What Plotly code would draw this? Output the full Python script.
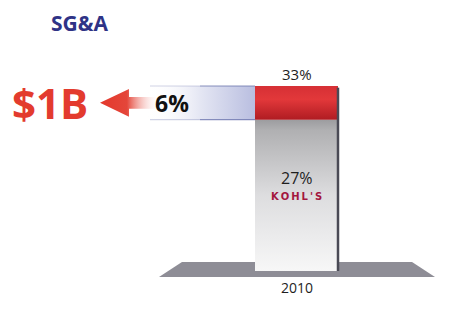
import plotly.graph_objects as go

# ---- data ----
years = ["2010"]
sga_after = [27]          # SG&A % after cut (gray part)
sga_cut = [6]             # SG&A % points cut (red part / arrow)
sga_before = [33]         # SG&A % before
savings_label = "$1B"
title = "SG&A"
brand = "KOHL'S"

# ---- layout helpers (pixel -> data) ----
W, H = 475, 312
XC, XHALF = 296.5, 41.5        # bar centre / half width in px
Y0PX, PXU = 271.0, 185.0 / 33  # baseline px, px per % unit
def X(px): return (px - XC) / XHALF
def Y(py): return (Y0PX - py) / PXU

fig = go.Figure()

base = sga_after[0]
top = base + sga_cut[0]

# gray bar (27%)
fig.add_trace(go.Scatter(
    x=[-1, 1, 1, -1, -1], y=[0, 0, base, base, 0], mode="lines",
    line=dict(width=0), fill="toself",
    fillgradient=dict(type="vertical", start=0, stop=base,
                      colorscale=[[0, "#f7f7f7"], [0.5, "#dddddf"], [0.93, "#b0b0b2"], [1, "#9c9c9f"]]),
    hoverinfo="skip", showlegend=False))
# red cap (6%)
fig.add_trace(go.Scatter(
    x=[-1, 1, 1, -1, -1], y=[base, base, top, top, base], mode="lines",
    line=dict(width=0), fill="toself",
    fillgradient=dict(type="vertical", start=base, stop=top,
                      colorscale=[[0, "#b01c22"], [0.6, "#e2383a"], [1, "#d63035"]]),
    hoverinfo="skip", showlegend=False))
# right edge shadow
fig.add_trace(go.Scatter(x=[1, 1], y=[0, top - 0.3], mode="lines",
                         line=dict(color="#4a4a55", width=2.5),
                         hoverinfo="skip", showlegend=False))

# blue band for the cut, extending left
fig.add_trace(go.Scatter(
    x=[X(146), -1, -1, X(146), X(146)], y=[base, base, top, top, base], mode="lines",
    line=dict(width=0), fill="toself",
    fillgradient=dict(type="horizontal", start=X(146), stop=-1,
                      colorscale=[[0, "rgba(255,255,255,0)"], [0.5, "#e4e6f3"], [1, "#b9bee0"]]),
    hoverinfo="skip", showlegend=False))
for yy in (base, top):
    fig.add_trace(go.Scatter(
        x=[X(150), X(200)], y=[yy, yy], mode="lines",
        line=dict(color="rgba(100,110,170,0.3)", width=1.2),
        hoverinfo="skip", showlegend=False))
    fig.add_trace(go.Scatter(
        x=[X(200), -1], y=[yy, yy], mode="lines",
        line=dict(color="rgba(100,110,170,0.75)", width=1.2),
        hoverinfo="skip", showlegend=False))

# red arrow
mid = (base + top) / 2
hh = Y(89) - mid
sh = Y(97) - mid
ax = [X(100), X(129), X(129), X(160), X(160), X(129), X(129), X(100)]
ay = [mid, mid + hh, mid + sh, mid + sh, mid - sh, mid - sh, mid - hh, mid]
fig.add_trace(go.Scatter(
    x=ax, y=ay, mode="lines", line=dict(width=0), fill="toself",
    fillgradient=dict(type="horizontal", start=X(100), stop=X(160),
                      colorscale=[[0, "#e4382c"], [0.45, "#e4463a"], [1, "rgba(255,255,255,0)"]]),
    hoverinfo="skip", showlegend=False))

# floor
floor = (f"M {X(182)},{Y(262)} L {X(412)},{Y(262)} L {X(435)},{Y(277)} "
         f"L {X(159)},{Y(277)} Z")
fig.add_shape(type="path", path=floor, xref="x", yref="y",
              fillcolor="#8e8d96", line=dict(width=0), layer="below")

brand_spaced = "\u2009".join(brand)
ann = []
ann.append(dict(x=0, y=top, yshift=12, text=f"{sga_before[0]}%", showarrow=False,
                font=dict(family="Open Sans", size=15, color="#1e1e1e")))
ann.append(dict(x=0, y=Y(178), text=f"{sga_after[0]}%", showarrow=False,
                font=dict(family="Open Sans", size=16, color="#1e1e1e")))
ann.append(dict(x=0, y=Y(196), text=f"<b>{brand_spaced}</b>", showarrow=False,
                font=dict(family="DejaVu Sans", size=10, color="#a3173f")))
ann.append(dict(x=0, y=0, yshift=-16, text=years[0], showarrow=False,
                font=dict(family="Open Sans", size=14, color="#1e1e1e")))
ann.append(dict(x=X(172), y=mid, text=f"<b>{sga_cut[0]}%</b>", showarrow=False,
                font=dict(family="Open Sans", size=23, color="#111111")))
ann.append(dict(x=X(50), y=mid, text=f"<b>{savings_label}</b>", showarrow=False,
                font=dict(family="Open Sans", size=42, color="#e33b2e")))
ann.append(dict(x=X(80), y=Y(23), text=f"<b>{title}</b>", showarrow=False,
                font=dict(family="Open Sans", size=21, color="#2f3386")))
for a in ann:
    a.update(xref="x", yref="y")

fig.update_layout(
    width=W, height=H, margin=dict(l=0, r=0, t=0, b=0),
    paper_bgcolor="white", plot_bgcolor="white",
    xaxis=dict(range=[X(0), X(W)], visible=False, fixedrange=True),
    yaxis=dict(range=[Y(H), Y(0)], visible=False, fixedrange=True),
    annotations=ann, showlegend=False,
)
fig.write_html("out.html")
